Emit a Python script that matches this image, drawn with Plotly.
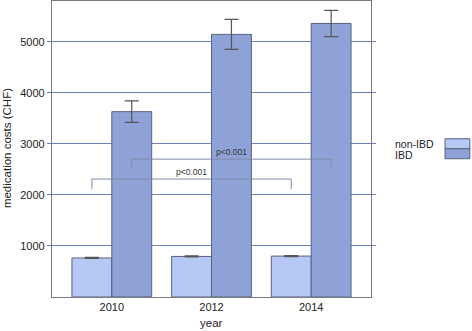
import plotly.graph_objects as go

years = ["2010", "2012", "2014"]
non_ibd = [765, 795, 802]
non_ibd_err = [10, 10, 10]
ibd = [3632, 5146, 5360]
ibd_err = [210, 293, 258]
y_ticks = [1000, 2000, 3000, 4000, 5000]

# significance brackets: (x0, x1, level, leg_bottom, label)
brackets = [
    (-0.2, 1.8, 2311, 2115, "p<0.001"),
    (0.2, 2.2, 2702, 2506, "p<0.001"),
]
label_y = [2440, 2840]

light = "#b6c8f4"
dark = "#8ea2d8"
edge = "#56627e"
grid = "#6f80b4"
font = "Liberation Sans, Arial, sans-serif"

fig = go.Figure()
fig.add_trace(go.Bar(
    x=[0, 1, 2], y=non_ibd, name="non-IBD", marker=dict(color=light, line=dict(color=edge, width=1)),
    error_y=dict(type="data", array=non_ibd_err, color="#555555", thickness=1.2, width=7),
    offset=-0.4, width=0.4,
))
fig.add_trace(go.Bar(
    x=[0, 1, 2], y=ibd, name="IBD", marker=dict(color=dark, line=dict(color=edge, width=1)),
    error_y=dict(type="data", array=ibd_err, color="#555555", thickness=1.2, width=7),
    offset=0.0, width=0.4,
))

for (x0, x1, lvl, leg, lab), ly in zip(brackets, label_y):
    fig.add_trace(go.Scatter(
        x=[x0, x0, x1, x1], y=[leg, lvl, lvl, leg], mode="lines",
        line=dict(color="#7d8ca6", width=1), showlegend=False, hoverinfo="skip",
    ))
    fig.add_annotation(x=(x0 + x1) / 2, y=ly, text=lab, showarrow=False,
                       font=dict(size=8.5, color="#333333", family=font), yanchor="middle")

# legend drawn manually (text left of stacked patches)
fig.add_shape(type="rect", xref="paper", yref="paper", x0=1.232, x1=1.310, y0=0.5008, y1=0.5346,
              fillcolor=light, line=dict(color=edge, width=1))
fig.add_shape(type="rect", xref="paper", yref="paper", x0=1.232, x1=1.310, y0=0.4671, y1=0.5008,
              fillcolor=dark, line=dict(color=edge, width=1))
fig.add_annotation(xref="paper", yref="paper", x=1.069, y=0.518, text="non-IBD", showarrow=False,
                   xanchor="left", yanchor="middle", font=dict(size=10.5, color="#222222", family=font))
fig.add_annotation(xref="paper", yref="paper", x=1.069, y=0.481, text="IBD", showarrow=False,
                   xanchor="left", yanchor="middle", font=dict(size=10.5, color="#222222", family=font))

# axis titles
fig.add_annotation(xref="paper", yref="paper", x=0.5, y=0, yshift=-18, text="year", showarrow=False,
                   xanchor="center", yanchor="top", font=dict(size=11.5, color="#222222", family=font))
fig.add_annotation(xref="paper", yref="paper", x=0, xshift=-37, y=0.503, text="medication costs (CHF)",
                   textangle=-90, showarrow=False, xanchor="right", yanchor="middle",
                   font=dict(size=11.5, color="#222222", family=font))

fig.update_layout(
    width=472, height=331,
    margin=dict(l=52, r=101, t=1, b=34),
    paper_bgcolor="white", plot_bgcolor="white",
    showlegend=False, barmode="overlay",
    font=dict(family=font, size=11, color="#222222"),
    xaxis=dict(
        range=[-0.6, 2.6], tickmode="array", tickvals=[0, 1, 2], ticktext=years,
        showgrid=False, zeroline=False, showline=True, linecolor="#7a7a7a", linewidth=1.2,
        mirror=True, ticks="", tickfont=dict(size=11),
    ),
    yaxis=dict(
        range=[0, 5800], tickmode="array", tickvals=y_ticks,
        showgrid=True, gridcolor=grid, gridwidth=1, zeroline=False,
        showline=True, linecolor="#7a7a7a", linewidth=1.2, mirror="ticks",
        ticks="outside", ticklen=4, tickcolor=grid, tickfont=dict(size=11),
    ),
)

fig.write_html("out.html", config={"displayModeBar": False},
               post_script="document.body.style.margin='0';document.body.style.padding='0';")
